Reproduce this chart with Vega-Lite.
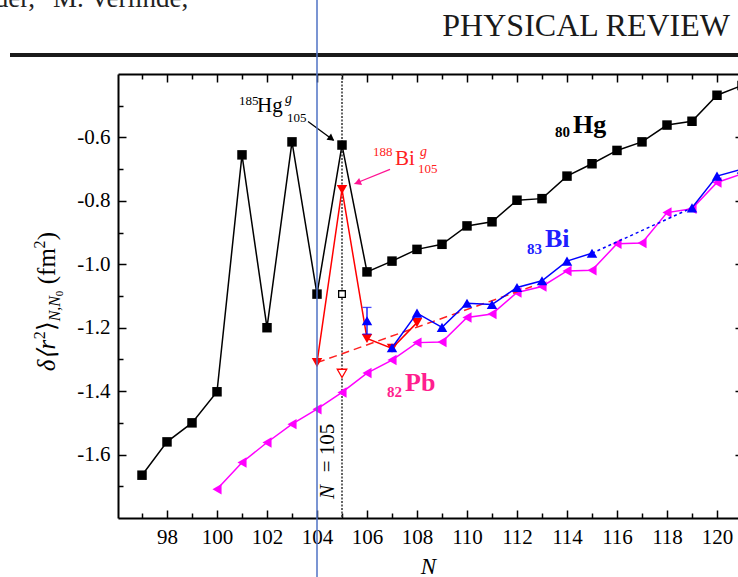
{
 "$schema": "https://vega.github.io/schema/vega-lite/v6.json",
 "width": 620, "height": 444,
 "autosize": {"type": "none"},
 "padding": {"left": 118, "top": 74, "right": 0, "bottom": 59},
 "background": "white",
 "datasets": {
  "hg": [{"N":97,"v":-1.665},{"N":98,"v":-1.56},{"N":99,"v":-1.5},{"N":100,"v":-1.402},{"N":101,"v":-0.655},{"N":102,"v":-1.2},{"N":103,"v":-0.614},{"N":104,"v":-1.094},{"N":105,"v":-0.624},{"N":106,"v":-1.024},{"N":107,"v":-0.99},{"N":108,"v":-0.953},{"N":109,"v":-0.937},{"N":110,"v":-0.879},{"N":111,"v":-0.866},{"N":112,"v":-0.798},{"N":113,"v":-0.793},{"N":114,"v":-0.722},{"N":115,"v":-0.683},{"N":116,"v":-0.641},{"N":117,"v":-0.614},{"N":118,"v":-0.561},{"N":119,"v":-0.549},{"N":120,"v":-0.467},{"N":121,"v":-0.436}],
  "pb": [{"N":100,"v":-1.709},{"N":101,"v":-1.625},{"N":102,"v":-1.562},{"N":103,"v":-1.504},{"N":104,"v":-1.457},{"N":105,"v":-1.404},{"N":106,"v":-1.343},{"N":107,"v":-1.302},{"N":108,"v":-1.247},{"N":109,"v":-1.245},{"N":110,"v":-1.168},{"N":111,"v":-1.157},{"N":112,"v":-1.089},{"N":113,"v":-1.07},{"N":114,"v":-1.021},{"N":115,"v":-1.019},{"N":116,"v":-0.935},{"N":117,"v":-0.933},{"N":118,"v":-0.837},{"N":119,"v":-0.825},{"N":120,"v":-0.742},{"N":121,"v":-0.715}],
  "bi": [{"N":107,"v":-1.263,"seg":"a"},{"N":108,"v":-1.154,"seg":"a"},{"N":109,"v":-1.199,"seg":"a"},{"N":110,"v":-1.123,"seg":"a"},{"N":111,"v":-1.127,"seg":"a"},{"N":112,"v":-1.073,"seg":"a"},{"N":113,"v":-1.052,"seg":"a"},{"N":114,"v":-0.99,"seg":"a"},{"N":115,"v":-0.965,"seg":"a"},{"N":119,"v":-0.822,"seg":"c"},{"N":120,"v":-0.722,"seg":"c"},{"N":121,"v":-0.70,"seg":"c"}],
  "bi106": [{"N":106,"v":-1.178,"lo":-1.22,"hi":-1.136}],
  "bidot": [{"N":115,"v":-0.965},{"N":119,"v":-0.822}],
  "red": [{"N":104,"v":-1.31},{"N":105,"v":-0.764},{"N":106,"v":-1.234},{"N":107,"v":-1.265},{"N":108,"v":-1.184}],
  "reddash": [{"N":104,"v":-1.31},{"N":112.6,"v":-1.07}],
  "hgIso": [{"N":105,"v":-1.094}],
  "biIso": [{"N":105,"v":-1.344}]
 },
 "resolve": {"axis": {"x": "independent", "y": "independent"}},
 "layer": [
  {"data": {"values": [{}]}, "mark": {"type": "rule", "color": "#333333", "strokeWidth": 1.5, "strokeDash": [2, 1.5]},
   "encoding": {"x": {"datum": 105, "type": "quantitative", "axis": null}}},
  {"data": {"name": "hg"}, "mark": {"type": "line", "color": "black", "strokeWidth": 1.5, "clip": true},
   "encoding": {
    "x": {"field": "N", "type": "quantitative", "scale": {"domain": [96.04, 120.84], "nice": false, "zero": false},
      "axis": {"orient": "bottom", "values": [98,100,102,104,106,108,110,112,114,116,118,120], "tickSize": -8, "tickWidth": 1.5, "domain": true, "domainWidth": 2, "labelFontSize": 21, "labelPadding": 16, "labelOverlap": false, "labelFlush": false, "title": "N", "titleFontSize": 23, "titleFontStyle": "italic", "titleFontWeight": "normal", "titlePadding": 8}},
    "y": {"field": "v", "type": "quantitative", "scale": {"domain": [-1.8, -0.4], "nice": false, "zero": false},
      "axis": {"orient": "left", "values": [-1.6,-1.4,-1.2,-1.0,-0.8,-0.6], "tickSize": -8, "tickWidth": 1.5, "domain": true, "domainWidth": 2, "labelFontSize": 21, "labelPadding": 16, "labelOverlap": false, "labelFlush": false, "labelExpr": "replace(format(datum.value, '.1f'), '−', '-')", "title": null}}
   }},
  {"data": {"name": "hg"}, "mark": {"type": "point", "shape": "square", "filled": true, "color": "black", "size": 90, "opacity": 1, "clip": true},
   "encoding": {
    "x": {"field": "N", "type": "quantitative", "axis": {"orient": "bottom", "values": [97,99,101,103,105,107,109,111,113,115,117,119], "tickSize": -5, "tickWidth": 1.5, "labels": false, "domain": false, "title": null}},
    "y": {"field": "v", "type": "quantitative", "axis": {"orient": "left", "values": [-1.7,-1.5,-1.3,-1.1,-0.9,-0.7,-0.5], "tickSize": -5, "tickWidth": 1.5, "labels": false, "domain": false, "title": null}}
   }},
  {"data": {"name": "pb"}, "mark": {"type": "line", "color": "#FF00FF", "strokeWidth": 1.5, "clip": true},
   "encoding": {
    "x": {"field": "N", "type": "quantitative", "axis": {"orient": "top", "values": [98,100,102,104,106,108,110,112,114,116,118,120], "tickSize": -8, "tickWidth": 1.5, "labels": false, "domain": true, "domainWidth": 2, "title": null}},
    "y": {"field": "v", "type": "quantitative", "axis": {"orient": "right", "values": [-1.6,-1.4,-1.2,-1.0,-0.8,-0.6], "tickSize": -3, "tickWidth": 1.5, "labels": false, "domain": false, "title": null}}
   }},
  {"data": {"name": "pb"}, "mark": {"type": "point", "shape": "triangle-left", "filled": true, "color": "#FF00FF", "size": 110, "opacity": 1, "clip": true},
   "encoding": {
    "x": {"field": "N", "type": "quantitative", "axis": {"orient": "top", "values": [97,99,101,103,105,107,109,111,113,115,117,119], "tickSize": -5, "tickWidth": 1.5, "labels": false, "domain": false, "title": null}},
    "y": {"field": "v", "type": "quantitative", "axis": null}
   }},
  {"data": {"name": "reddash"}, "mark": {"type": "line", "color": "#FF2020", "strokeWidth": 1.5, "strokeDash": [8, 5]},
   "encoding": {"x": {"field": "N", "type": "quantitative", "axis": null}, "y": {"field": "v", "type": "quantitative", "axis": null}}},
  {"data": {"name": "red"}, "mark": {"type": "line", "color": "#FF0000", "strokeWidth": 1.5},
   "encoding": {"x": {"field": "N", "type": "quantitative", "axis": null}, "y": {"field": "v", "type": "quantitative", "axis": null}}},
  {"data": {"name": "red"}, "mark": {"type": "point", "shape": "triangle-down", "filled": true, "color": "#FF0000", "size": 110, "opacity": 1},
   "encoding": {"x": {"field": "N", "type": "quantitative", "axis": null}, "y": {"field": "v", "type": "quantitative", "axis": null}}},
  {"data": {"name": "biIso"}, "mark": {"type": "point", "shape": "triangle-down", "filled": true, "fill": "white", "stroke": "#FF0000", "strokeWidth": 1.3, "size": 90, "opacity": 1},
   "encoding": {"x": {"field": "N", "type": "quantitative", "axis": null}, "y": {"field": "v", "type": "quantitative", "axis": null}}},
  {"data": {"name": "hgIso"}, "mark": {"type": "point", "shape": "square", "filled": true, "fill": "white", "stroke": "black", "strokeWidth": 1.3, "size": 45, "opacity": 1},
   "encoding": {"x": {"field": "N", "type": "quantitative", "axis": null}, "y": {"field": "v", "type": "quantitative", "axis": null}}},
  {"data": {"name": "bi"}, "mark": {"type": "line", "color": "#0000FF", "strokeWidth": 1.5, "clip": true},
   "encoding": {"x": {"field": "N", "type": "quantitative", "axis": null}, "y": {"field": "v", "type": "quantitative", "axis": null}, "detail": {"field": "seg"}}},
  {"data": {"name": "bidot"}, "mark": {"type": "line", "color": "#0000FF", "strokeWidth": 1.5, "strokeDash": [3, 3]},
   "encoding": {"x": {"field": "N", "type": "quantitative", "axis": null}, "y": {"field": "v", "type": "quantitative", "axis": null}}},
  {"data": {"name": "bi"}, "mark": {"type": "point", "shape": "triangle-up", "filled": true, "color": "#0000FF", "size": 110, "opacity": 1, "clip": true},
   "encoding": {"x": {"field": "N", "type": "quantitative", "axis": null}, "y": {"field": "v", "type": "quantitative", "axis": null}}},
  {"data": {"name": "bi106"}, "mark": {"type": "rule", "color": "#0000FF", "strokeWidth": 1.3},
   "encoding": {"x": {"field": "N", "type": "quantitative", "axis": null}, "y": {"field": "lo", "type": "quantitative", "axis": null}, "y2": {"field": "hi"}}},
  {"data": {"name": "bi106"}, "mark": {"type": "tick", "color": "#0000FF", "thickness": 1.3, "size": 9, "orient": "horizontal"},
   "encoding": {"x": {"field": "N", "type": "quantitative", "axis": null}, "y": {"field": "hi", "type": "quantitative", "axis": null}}},
  {"data": {"name": "bi106"}, "mark": {"type": "tick", "color": "#0000FF", "thickness": 1.3, "size": 9, "orient": "horizontal"},
   "encoding": {"x": {"field": "N", "type": "quantitative", "axis": null}, "y": {"field": "lo", "type": "quantitative", "axis": null}}},
  {"data": {"name": "bi106"}, "mark": {"type": "point", "shape": "triangle-up", "filled": true, "color": "#0000FF", "size": 110, "opacity": 1},
   "encoding": {"x": {"field": "N", "type": "quantitative", "axis": null}, "y": {"field": "v", "type": "quantitative", "axis": null}}},
  {"data": {"values": [{"N": 103.64, "v": -0.5496, "N2": 104.66, "v2": -0.609}]}, "mark": {"type": "rule", "color": "black", "strokeWidth": 1.3},
   "encoding": {"x": {"field": "N", "type": "quantitative", "axis": null}, "y": {"field": "v", "type": "quantitative", "axis": null}, "x2": {"field": "N2"}, "y2": {"field": "v2"}}},
  {"data": {"values": [{"N": 104.58, "v": -0.604}]}, "mark": {"type": "point", "shape": "triangle-right", "filled": true, "color": "black", "size": 60, "angle": 36, "opacity": 1},
   "encoding": {"x": {"field": "N", "type": "quantitative", "axis": null}, "y": {"field": "v", "type": "quantitative", "axis": null}}},
  {"data": {"values": [{"N": 106.92, "v": -0.7008, "N2": 105.5, "v2": -0.746}]}, "mark": {"type": "rule", "color": "#FF1493", "strokeWidth": 1.3},
   "encoding": {"x": {"field": "N", "type": "quantitative", "axis": null}, "y": {"field": "v", "type": "quantitative", "axis": null}, "x2": {"field": "N2"}, "y2": {"field": "v2"}}},
  {"data": {"values": [{"N": 105.62, "v": -0.743}]}, "mark": {"type": "point", "shape": "triangle-right", "filled": true, "color": "#FF1493", "size": 60, "angle": 158, "opacity": 1},
   "encoding": {"x": {"field": "N", "type": "quantitative", "axis": null}, "y": {"field": "v", "type": "quantitative", "axis": null}}},
  {"data": {"values": [{"N": 101.6, "v": -0.521, "t": "Hg"}]}, "mark": {"type": "text", "align": "left", "baseline": "alphabetic", "fontSize": 21, "font": "Liberation Serif", "color": "black"},
   "encoding": {"x": {"field": "N", "type": "quantitative", "axis": null}, "y": {"field": "v", "type": "quantitative", "axis": null}, "text": {"field": "t"}}},
  {"data": {"values": [{"N": 100.88, "v": -0.499, "t": "185"}, {"N": 102.8, "v": -0.55, "t": "105"}]}, "mark": {"type": "text", "align": "left", "baseline": "alphabetic", "fontSize": 13, "font": "Liberation Serif", "color": "black"},
   "encoding": {"x": {"field": "N", "type": "quantitative", "axis": null}, "y": {"field": "v", "type": "quantitative", "axis": null}, "text": {"field": "t"}}},
  {"data": {"values": [{"N": 102.72, "v": -0.493, "t": "g"}]}, "mark": {"type": "text", "align": "left", "baseline": "alphabetic", "fontSize": 14, "fontStyle": "italic", "font": "Liberation Serif", "color": "black"},
   "encoding": {"x": {"field": "N", "type": "quantitative", "axis": null}, "y": {"field": "v", "type": "quantitative", "axis": null}, "text": {"field": "t"}}},
  {"data": {"values": [{"N": 107.12, "v": -0.688, "t": "Bi"}]}, "mark": {"type": "text", "align": "left", "baseline": "alphabetic", "fontSize": 21, "font": "Liberation Serif", "color": "#FF2020"},
   "encoding": {"x": {"field": "N", "type": "quantitative", "axis": null}, "y": {"field": "v", "type": "quantitative", "axis": null}, "text": {"field": "t"}}},
  {"data": {"values": [{"N": 106.24, "v": -0.657, "t": "188"}, {"N": 108.04, "v": -0.713, "t": "105"}]}, "mark": {"type": "text", "align": "left", "baseline": "alphabetic", "fontSize": 13, "font": "Liberation Serif", "color": "#FF2020"},
   "encoding": {"x": {"field": "N", "type": "quantitative", "axis": null}, "y": {"field": "v", "type": "quantitative", "axis": null}, "text": {"field": "t"}}},
  {"data": {"values": [{"N": 108.12, "v": -0.657, "t": "g"}]}, "mark": {"type": "text", "align": "left", "baseline": "alphabetic", "fontSize": 14, "fontStyle": "italic", "font": "Liberation Serif", "color": "#FF2020"},
   "encoding": {"x": {"field": "N", "type": "quantitative", "axis": null}, "y": {"field": "v", "type": "quantitative", "axis": null}, "text": {"field": "t"}}},
  {"data": {"values": [{"N": 114.24, "v": -0.587, "t": "Hg"}]}, "mark": {"type": "text", "align": "left", "baseline": "alphabetic", "fontSize": 26, "fontWeight": "bold", "font": "Liberation Serif", "color": "black"},
   "encoding": {"x": {"field": "N", "type": "quantitative", "axis": null}, "y": {"field": "v", "type": "quantitative", "axis": null}, "text": {"field": "t"}}},
  {"data": {"values": [{"N": 113.52, "v": -0.6, "t": "80"}]}, "mark": {"type": "text", "align": "left", "baseline": "alphabetic", "fontSize": 15, "fontWeight": "bold", "font": "Liberation Serif", "color": "black"},
   "encoding": {"x": {"field": "N", "type": "quantitative", "axis": null}, "y": {"field": "v", "type": "quantitative", "axis": null}, "text": {"field": "t"}}},
  {"data": {"values": [{"N": 113.12, "v": -0.946, "t": "Bi"}]}, "mark": {"type": "text", "align": "left", "baseline": "alphabetic", "fontSize": 26, "fontWeight": "bold", "font": "Liberation Serif", "color": "#2020FF"},
   "encoding": {"x": {"field": "N", "type": "quantitative", "axis": null}, "y": {"field": "v", "type": "quantitative", "axis": null}, "text": {"field": "t"}}},
  {"data": {"values": [{"N": 112.4, "v": -0.968, "t": "83"}]}, "mark": {"type": "text", "align": "left", "baseline": "alphabetic", "fontSize": 15, "fontWeight": "bold", "font": "Liberation Serif", "color": "#2020FF"},
   "encoding": {"x": {"field": "N", "type": "quantitative", "axis": null}, "y": {"field": "v", "type": "quantitative", "axis": null}, "text": {"field": "t"}}},
  {"data": {"values": [{"N": 107.52, "v": -1.4, "t": "Pb"}]}, "mark": {"type": "text", "align": "left", "baseline": "alphabetic", "fontSize": 26, "fontWeight": "bold", "font": "Liberation Serif", "color": "#FF1F8F"},
   "encoding": {"x": {"field": "N", "type": "quantitative", "axis": null}, "y": {"field": "v", "type": "quantitative", "axis": null}, "text": {"field": "t"}}},
  {"data": {"values": [{"N": 106.8, "v": -1.419, "t": "82"}]}, "mark": {"type": "text", "align": "left", "baseline": "alphabetic", "fontSize": 15, "fontWeight": "bold", "font": "Liberation Serif", "color": "#FF1F8F"},
   "encoding": {"x": {"field": "N", "type": "quantitative", "axis": null}, "y": {"field": "v", "type": "quantitative", "axis": null}, "text": {"field": "t"}}},
  {"data": {"values": [{"N": 104.44, "v": -1.718, "t": "N"}]}, "mark": {"type": "text", "align": "center", "baseline": "middle", "angle": 270, "fontSize": 21, "fontStyle": "italic", "font": "Liberation Serif", "color": "black"},
   "encoding": {"x": {"field": "N", "type": "quantitative", "axis": null}, "y": {"field": "v", "type": "quantitative", "axis": null}, "text": {"field": "t"}}},
  {"data": {"values": [{"N": 104.44, "v": -1.5795, "t": "= 105"}]}, "mark": {"type": "text", "align": "center", "baseline": "middle", "angle": 270, "fontSize": 21, "font": "Liberation Serif", "color": "black"},
   "encoding": {"x": {"field": "N", "type": "quantitative", "axis": null}, "y": {"field": "v", "type": "quantitative", "axis": null}, "text": {"field": "t"}}},
  {"data": {"values": [{"N": 93.52, "v": -1.337, "t": "δ⟨r"}]}, "mark": {"type": "text", "align": "left", "baseline": "alphabetic", "angle": 270, "fontSize": 25, "fontStyle": "italic", "font": "Liberation Serif", "color": "black"},
   "encoding": {"x": {"field": "N", "type": "quantitative", "axis": null}, "y": {"field": "v", "type": "quantitative", "axis": null}, "text": {"field": "t"}}},
  {"data": {"values": [{"N": 93.52, "v": -1.211, "t": "⟩"}, {"N": 93.52, "v": -1.063, "t": "(fm"}, {"N": 93.52, "v": -0.924, "t": ")"}]}, "mark": {"type": "text", "align": "left", "baseline": "alphabetic", "angle": 270, "fontSize": 25, "font": "Liberation Serif", "color": "black"},
   "encoding": {"x": {"field": "N", "type": "quantitative", "axis": null}, "y": {"field": "v", "type": "quantitative", "axis": null}, "text": {"field": "t"}}},
  {"data": {"values": [{"N": 93.12, "v": -1.236, "t": "2"}, {"N": 93.12, "v": -0.95, "t": "2"}]}, "mark": {"type": "text", "align": "left", "baseline": "alphabetic", "angle": 270, "fontSize": 16, "font": "Liberation Serif", "color": "black"},
   "encoding": {"x": {"field": "N", "type": "quantitative", "axis": null}, "y": {"field": "v", "type": "quantitative", "axis": null}, "text": {"field": "t"}}},
  {"data": {"values": [{"N": 93.72, "v": -1.18, "t": "N,N"}]}, "mark": {"type": "text", "align": "left", "baseline": "alphabetic", "angle": 270, "fontSize": 16, "fontStyle": "italic", "font": "Liberation Serif", "color": "black"},
   "encoding": {"x": {"field": "N", "type": "quantitative", "axis": null}, "y": {"field": "v", "type": "quantitative", "axis": null}, "text": {"field": "t"}}},
  {"data": {"values": [{"N": 93.84, "v": -1.101, "t": "0"}]}, "mark": {"type": "text", "align": "left", "baseline": "alphabetic", "angle": 270, "fontSize": 11, "font": "Liberation Serif", "color": "black"},
   "encoding": {"x": {"field": "N", "type": "quantitative", "axis": null}, "y": {"field": "v", "type": "quantitative", "axis": null}, "text": {"field": "t"}}},
  {"data": {"values": [{"N": 92.72, "v": -0.189, "t": "S. Raeder,"}]}, "mark": {"type": "text", "align": "right", "baseline": "alphabetic", "fontSize": 27, "font": "Liberation Serif", "color": "#222222"},
   "encoding": {"x": {"field": "N", "type": "quantitative", "axis": null}, "y": {"field": "v", "type": "quantitative", "axis": null}, "text": {"field": "t"}}},
  {"data": {"values": [{"N": 93.44, "v": -0.189, "t": "M. Verlinde,"}]}, "mark": {"type": "text", "align": "left", "baseline": "alphabetic", "fontSize": 27, "font": "Liberation Serif", "color": "#222222"},
   "encoding": {"x": {"field": "N", "type": "quantitative", "axis": null}, "y": {"field": "v", "type": "quantitative", "axis": null}, "text": {"field": "t"}}},
  {"data": {"values": [{"N": 120.52, "v": -0.279, "t": "PHYSICAL REVIEW"}]}, "mark": {"type": "text", "align": "right", "baseline": "alphabetic", "fontSize": 32, "font": "Liberation Serif", "color": "#1a1a1a"},
   "encoding": {"x": {"field": "N", "type": "quantitative", "axis": null}, "y": {"field": "v", "type": "quantitative", "axis": null}, "text": {"field": "t"}}},
  {"data": {"values": [{}]}, "mark": {"type": "rule", "color": "#1a1a1a", "strokeWidth": 4, "clip": false},
   "encoding": {"x": {"datum": 91.72, "type": "quantitative", "axis": null}, "x2": {"datum": 121.5}, "y": {"datum": -0.34, "type": "quantitative", "axis": null}}},
  {"data": {"values": [{}]}, "mark": {"type": "rule", "color": "#4f72c4", "strokeWidth": 1.5, "clip": false},
   "encoding": {"x": {"datum": 104, "type": "quantitative", "axis": null}, "y": {"datum": -0.16, "type": "quantitative", "axis": null}, "y2": {"datum": -1.99}}}
 ],
 "config": {
  "view": {"stroke": null},
  "axis": {"grid": false, "labelFont": "Liberation Serif", "titleFont": "Liberation Serif", "labelColor": "black", "titleColor": "black", "tickColor": "black", "domainColor": "black"},
  "text": {"font": "Liberation Serif"}
 }
}
